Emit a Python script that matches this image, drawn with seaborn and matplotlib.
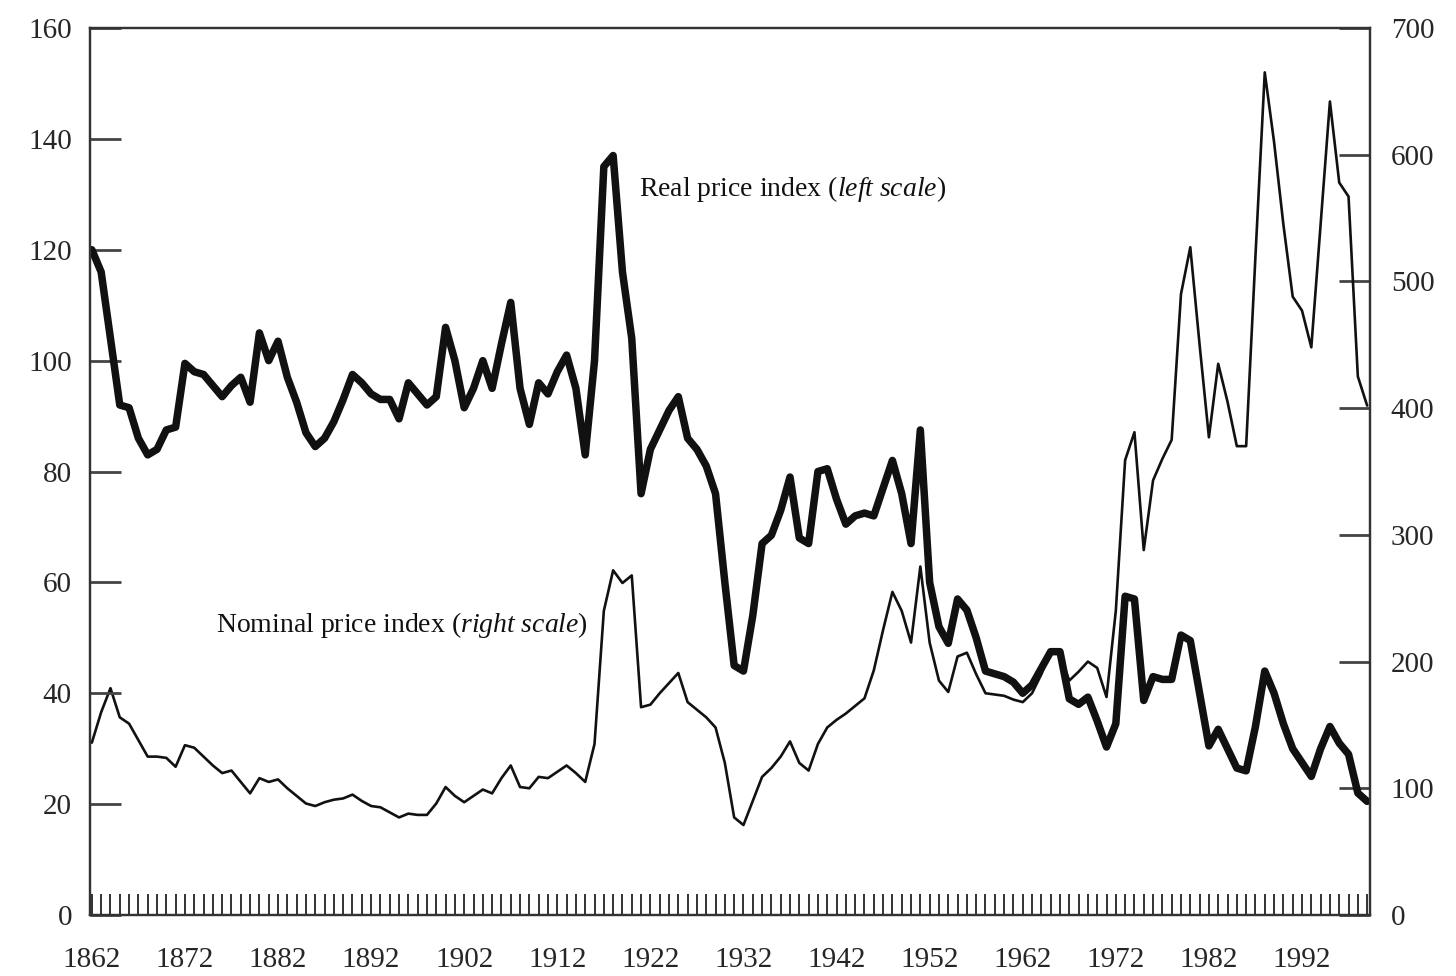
import numpy as np
import pandas as pd
import matplotlib.pyplot as plt
import seaborn as sns
from matplotlib.ticker import FixedLocator, MultipleLocator

# ── data ────────────────────────────────────────────────────────────
years = list(range(1862, 2000))

# real price index, left scale
real_index = [
    120, 116, 104, 92, 91.5, 86, 83, 84, 87.5, 88,            # 1862-1871
    99.5, 98, 97.5, 95.5, 93.5, 95.5, 97, 92.5, 105, 100,     # 1872-1881
    103.5, 97, 92.5, 87, 84.5, 86, 89, 93, 97.5, 96,          # 1882-1891
    94, 93, 93, 89.5, 96, 94, 92, 93.5, 106, 100,             # 1892-1901
    91.5, 95, 100, 95, 103, 110.5, 95, 88.5, 96, 94,          # 1902-1911
    98, 101, 95, 83, 100, 135, 137, 116, 104, 76,             # 1912-1921
    84, 87.5, 91, 93.5, 86, 84, 81, 76, 60, 45,               # 1922-1931
    44, 54, 67, 68.5, 73, 79, 68, 67, 80, 80.5,               # 1932-1941
    75, 70.5, 72, 72.5, 72, 77, 82, 76, 67, 87.5,             # 1942-1951
    60, 52, 49, 57, 55, 50, 44, 43.5, 43, 42,                 # 1952-1961
    40, 41.5, 44.5, 47.5, 47.5, 39, 38, 39.3, 35, 30.3,       # 1962-1971
    34.5, 57.5, 57, 38.7, 43, 42.5, 42.5, 50.5, 49.5, 40,     # 1972-1981
    30.5, 33.5, 30, 26.5, 26, 34, 44, 40, 34.5, 30,           # 1982-1991
    27.5, 25, 30, 34, 31, 29, 22, 20.5,                       # 1992-1999
]

# nominal price index, right scale
nominal_index = [
    136, 160, 179, 156, 151, 138, 125, 125, 124, 117,         # 1862-1871
    134, 132, 125, 118, 112, 114, 105, 96, 108, 105,          # 1872-1881
    107, 100, 94, 88, 86, 89, 91, 92, 95, 90,                 # 1882-1891
    86, 85, 81, 77, 80, 79, 79, 88, 101, 94,                  # 1892-1901
    89, 94, 99, 96, 108, 118, 101, 100, 109, 108,             # 1902-1911
    113, 118, 112, 105, 135, 240, 272, 262, 268, 164,         # 1912-1921
    166, 175, 183, 191, 168, 162, 156, 148, 120, 77,          # 1922-1931
    71, 90, 109, 116, 125, 137, 120, 114, 135, 148,           # 1932-1941
    154, 159, 165, 171, 193, 225, 255, 240, 215, 275,         # 1942-1951
    215, 185, 176, 204, 207, 190, 175, 174, 173, 170,         # 1952-1961
    168, 175, 190, 209, 205, 185, 192, 200, 195, 172,         # 1962-1971
    240, 359, 381, 288, 343, 360, 375, 490, 527, 450,         # 1972-1981
    377, 435, 405, 370, 370, 520, 665, 610, 545, 488,         # 1982-1991
    477, 448, 545, 642, 578, 567, 425, 402,                   # 1992-1999
]

label_years = list(range(1862, 1993, 10))
left_ticks = list(range(0, 161, 20))
right_ticks = list(range(0, 701, 100))

sns.set_style("ticks")
plt.rcParams["font.family"] = ["Liberation Serif", "DejaVu Serif"]
plt.rcParams["mathtext.fontset"] = "custom"
plt.rcParams["mathtext.rm"] = "Liberation Serif"
plt.rcParams["mathtext.it"] = "Liberation Serif:italic"

df = pd.DataFrame({"year": years, "real": real_index, "nominal": nominal_index})
ink = "#111111"

fig = plt.figure(figsize=(14.56, 9.76), dpi=100)
ax = fig.add_axes([0.0618, 0.0625, 0.8791, 0.9088])
ax2 = ax.twinx()
ax.set_zorder(ax2.get_zorder() + 1)
ax.patch.set_visible(False)

sns.lineplot(data=df, x="year", y="real", ax=ax, color=ink, lw=5.4)
sns.lineplot(data=df, x="year", y="nominal", ax=ax2, color=ink, lw=1.9)

ax.set_xlim(1861.8, 1999.3)
ax.set_ylim(0, 160)
ax2.set_ylim(0, 700)

ax.xaxis.set_major_locator(FixedLocator(label_years))
ax.xaxis.set_minor_locator(MultipleLocator(1))
ax.set_yticks(left_ticks)
ax2.set_yticks(right_ticks)

ax.tick_params(axis="x", which="both", direction="in", length=15, width=1.3,
               color="#222222", labelsize=21, pad=23)
ax.tick_params(axis="y", direction="in", length=22, width=2, color="#444444",
               labelsize=21, pad=13)
ax2.tick_params(axis="y", direction="in", length=22, width=2, color="#444444",
                labelsize=21, pad=15)

for a in (ax, ax2):
    a.set_xlabel("")
    a.set_ylabel("")
    for sp in a.spines.values():
        sp.set_visible(True)
        sp.set_linewidth(1.6)
        sp.set_color("#333333")

ax.text(1920.8, 131, r"Real price index ($\it{left\ scale}$)",
        fontsize=20, va="center", ha="left", color=ink)
ax.text(1875.3, 52.4, r"Nominal price index ($\it{right\ scale}$)",
        fontsize=20, va="center", ha="left", color=ink)

plt.savefig("out.png", dpi=100)
plt.close()
